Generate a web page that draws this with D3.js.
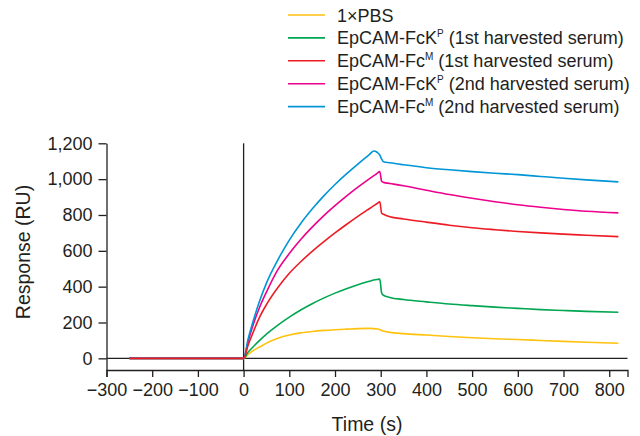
<!DOCTYPE html>
<html>
<head>
<meta charset="utf-8">
<script src="https://cdn.jsdelivr.net/npm/d3@7"></script>
<style>
  body { margin: 0; background: #fff; }
  svg { font-family: "Liberation Sans", Arial, sans-serif; }
</style>
</head>
<body>
<svg id="chart" width="640" height="436"></svg>
<script>
// time (s) shared by all sensorgrams
const time = [-250, 0, 10, 20, 35, 50, 75, 100, 125, 150, 175, 200, 225, 250, 275, 285, 292, 298, 302, 306, 320, 350, 400, 450, 500, 550, 600, 650, 700, 750, 820];

const pbs      = [0, 0, 22, 42, 63, 85, 112, 130, 142, 150, 156, 160, 163, 166, 167, 166, 164, 161, 156, 152, 145, 138, 130, 122, 115, 109, 105, 100, 95, 90, 84];
const fckP1    = [0, 0, 35, 62, 100, 135, 185, 230, 270, 305, 336, 364, 389, 411, 430, 437, 440, 442, 365, 352, 340, 328, 315, 303, 294, 286, 279, 272, 267, 262, 257];
const fcM1     = [0, 0, 75, 140, 230, 300, 395, 475, 539, 597, 650, 700, 747, 792, 835, 852, 864, 874, 810, 804, 790, 778, 760, 743, 729, 718, 708, 700, 693, 687, 679];
const fckP2    = [0, 0, 95, 180, 285, 370, 495, 585, 663, 732, 795, 852, 905, 955, 1002, 1020, 1032, 1042, 988, 982, 976, 963, 938, 914, 893, 874, 857, 843, 831, 821, 812];
const fcM2     = [0, 0, 110, 200, 320, 420, 550, 660, 753, 833, 905, 970, 1029, 1084, 1137, 1157, 1150, 1134, 1112, 1097, 1091, 1080, 1064, 1052, 1042, 1033, 1025, 1015, 1005, 996, 985];

const xTicks = [-300, -200, -100, 0, 100, 200, 300, 400, 500, 600, 700, 800];
const yTicks = [0, 200, 400, 600, 800, 1000, 1200];

// legend order, drawing order is separate (red ends up on top)
const series = [
  {name: "1×PBS", sup: "", rest: "", values: pbs, color: "#ffc20e"},
  {name: "EpCAM-FcK", sup: "P", rest: " (1st harvested serum)", values: fckP1, color: "#00a651"},
  {name: "EpCAM-Fc", sup: "M", rest: " (1st harvested serum)", values: fcM1, color: "#ed1c24"},
  {name: "EpCAM-FcK", sup: "P", rest: " (2nd harvested serum)", values: fckP2, color: "#ec008c"},
  {name: "EpCAM-Fc", sup: "M", rest: " (2nd harvested serum)", values: fcM2, color: "#0096d6"}
];
const drawOrder = [0, 1, 3, 4, 2];

const ink = "#231f20";
const svg = d3.select("#chart");

const x = d3.scaleLinear().domain([-300, 840]).range([106.5, 627.5]);
const y = d3.scaleLinear().domain([-65, 1200]).range([370, 143.3]);

// axes
let xAxis = svg.append("g")
  .attr("transform", `translate(0,${y(-65)})`)
  .call(d3.axisBottom(x).tickValues(xTicks).tickSize(7).tickSizeOuter(7));
let yAxis = svg.append("g")
  .attr("transform", `translate(${x(-300)},0)`)
  .call(d3.axisLeft(y).tickValues(yTicks).tickFormat(d3.format(",")).tickSize(8).tickSizeOuter(0));

[xAxis, yAxis].forEach(g => {
  g.selectAll("path, line").attr("stroke", ink).attr("stroke-width", 1.3);
  g.selectAll("text").attr("fill", ink).style("font-size", "18px").style("font-family", "inherit");
});
xAxis.selectAll("text").attr("dy", "0.95em").attr("y", 9);
yAxis.selectAll("text").attr("x", -14);

// zero line and injection marker
svg.append("line")
  .attr("x1", x(-300)).attr("x2", x(840))
  .attr("y1", y(0)).attr("y2", y(0))
  .attr("stroke", ink).attr("stroke-width", 1.3);
svg.append("line")
  .attr("x1", x(0)).attr("x2", x(0))
  .attr("y1", y(1200)).attr("y2", y(-65))
  .attr("stroke", ink).attr("stroke-width", 1.3);

const line = d3.line()
  .x((d, i) => x(time[i]))
  .y(d => y(d))
  .curve(d3.curveMonotoneX);

drawOrder.forEach(k => {
  svg.append("path")
    .attr("d", line(series[k].values))
    .attr("fill", "none")
    .attr("stroke", series[k].color)
    .attr("stroke-width", 1.6);
});

// axis titles
svg.append("text")
  .attr("x", x(270)).attr("y", 431)
  .attr("text-anchor", "middle")
  .attr("fill", ink)
  .style("font-size", "19.5px")
  .text("Time (s)");
svg.append("text")
  .attr("transform", "translate(30,252) rotate(-90)")
  .attr("text-anchor", "middle")
  .attr("fill", ink)
  .style("font-size", "19.5px")
  .text("Response (RU)");

// legend
let legend = svg.append("g");
series.forEach((s, i) => {
  let yy = 15 + i * 22.9;
  legend.append("line")
    .attr("x1", 288).attr("x2", 325)
    .attr("y1", yy).attr("y2", yy)
    .attr("stroke", s.color).attr("stroke-width", 1.6);
  let t = legend.append("text")
    .attr("x", 337).attr("y", yy + 6.5)
    .attr("fill", ink)
    .style("font-size", "18px");
  t.append("tspan").text(s.name);
  if (s.sup) {
    t.append("tspan").attr("dy", -7).style("font-size", "10px").text(s.sup);
    t.append("tspan").attr("dy", 7).text(s.rest);
  }
});
</script>
</body>
</html>
